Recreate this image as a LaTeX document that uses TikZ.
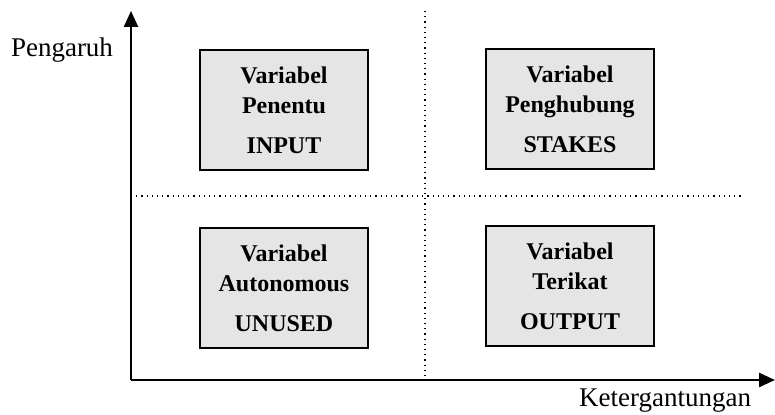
\documentclass[tikz,border=0pt]{standalone}
\usepackage{fontspec}
\setmainfont{Liberation Serif}
\usetikzlibrary{arrows.meta}

\tikzset{
  kotak/.style={draw, line width=1.3pt, fill=black!10, minimum width=84pt, minimum height=60pt,
    align=center, font=\fontsize{12}{15}\selectfont\bfseries},
  sumbu/.style={line width=1.2pt, -{Triangle[length=8pt,width=7pt]}},
  garis/.style={dotted, line width=0.6pt}
}

\begin{document}
\begin{tikzpicture}[x=0.5pt,y=0.5pt]
\useasboundingbox (0,0) rectangle (775,415);

\coordinate (O) at (131,35);
\coordinate (Ytop) at (131,404);
\coordinate (Xend) at (775,35);
\draw[sumbu] (O) -- (Ytop);
\draw[sumbu] (O) -- (Xend);

\coordinate (Vtop) at (425,404);
\coordinate (Vbot) at (425,35);
\coordinate (Hl) at (131,219);
\coordinate (Hr) at (743,219);
\draw[garis] (Vtop) -- (Vbot);
\draw[garis] (Hl) -- (Hr);

\node[font=\fontsize{13.5}{16}\selectfont] (pengaruh) at (62,365) {Pengaruh};
\node[font=\fontsize{13.5}{16}\selectfont] (ketergantungan) at (665,14) {Ketergantungan};

\node[kotak] (input) at (284,305) {Variabel\\Penentu\\[5pt]INPUT};
\node[kotak] (stakes) at (570,306) {Variabel\\Penghubung\\[5pt]STAKES};
\node[kotak] (unused) at (284,127) {Variabel\\Autonomous\\[5pt]UNUSED};
\node[kotak] (output) at (570,129) {Variabel\\Terikat\\[5pt]OUTPUT};
\end{tikzpicture}
\end{document}
